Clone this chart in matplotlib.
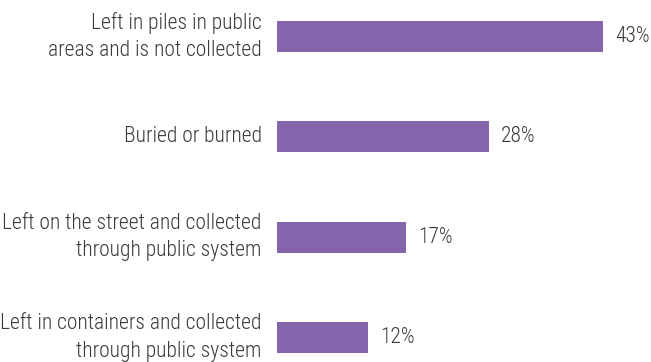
import matplotlib
matplotlib.use("Agg")
import matplotlib.pyplot as plt
from matplotlib import font_manager as fm

categories = [
    "Left in piles in public\nareas and is not collected",
    "Buried or burned",
    "Left on the street and collected\nthrough public system",
    "Left in containers and collected\nthrough public system",
]
values = [43, 28, 17, 12]
value_labels = ["43%", "28%", "17%", "12%"]

bar_color = "#8464AA"
text_color = "#3a3a3a"

# Prefer the condensed cut of Roboto; fall back to regular-width Roboto at a smaller size
installed = {f.name for f in fm.fontManager.ttflist}
if "Roboto Condensed" in installed:
    family, fsize, lspace = "Roboto Condensed", 15.5, 1.4
else:
    family, fsize, lspace = "Roboto", 14, 1.45
plt.rcParams["font.family"] = [family, "DejaVu Sans"]

W, H, DPI = 651, 362, 100
fig = plt.figure(figsize=(W / DPI, H / DPI), dpi=DPI)

left_px = 277
ax = fig.add_axes([left_px / W, 0, 1 - left_px / W, 1])

px_per_unit = 326 / 43.0
ax.set_xlim(0, (W - left_px) / px_per_unit)
ax.set_ylim(3.245, -0.365)

ypos = list(range(len(categories)))
ax.barh(ypos, values, height=0.31, color=bar_color, edgecolor="none")

# value labels to the right of each bar
for y, v, lab in zip(ypos, values, value_labels):
    ax.annotate(lab, xy=(v, y), xytext=(8.5, 0), textcoords="offset points",
                ha="left", va="center", fontsize=fsize, color=text_color,
                fontweight="light")

# category labels, right-aligned just left of the bars and centred on them
for y, cat in zip(ypos, categories):
    ax.annotate(cat, xy=(0, y), xytext=(-11, 0), textcoords="offset points",
                ha="right", va="center", multialignment="right",
                fontsize=fsize, color=text_color, fontweight="light",
                linespacing=lspace)

ax.set_yticks([])
ax.set_xticks([])
for s in ax.spines.values():
    s.set_visible(False)

fig.savefig("out.png", dpi=DPI)
